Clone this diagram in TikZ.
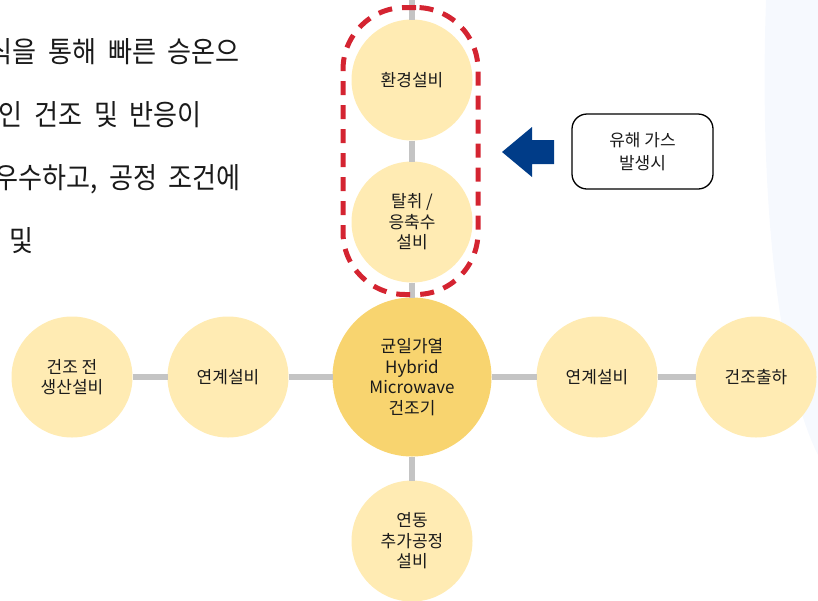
\documentclass[tikz,border=0pt]{standalone}
\usepackage{fontspec}
\setmainfont{Noto Sans CJK KR}
\newfontfamily\bodyfont{Noto Sans CJK KR}[FakeStretch=0.9,WordSpace=2.0]
\definecolor{lightY}{HTML}{FFEBB3}
\definecolor{darkY}{HTML}{F8D46F}
\definecolor{lineG}{HTML}{C4C4C4}
\definecolor{dashR}{HTML}{D42431}
\definecolor{arrB}{HTML}{003C88}
\definecolor{bgB}{HTML}{F6F9FE}
\definecolor{txt}{HTML}{1A1A1A}
\begin{document}
\begin{tikzpicture}[x=1pt,y=-1pt,
  stage/.style={circle, fill=lightY, minimum size=121pt, inner sep=0pt, outer sep=0pt, align=center, font=\fontsize{17}{20.5}\selectfont, text=txt},
  hub/.style={stage, fill=darkY, minimum size=159pt},
  link/.style={draw=lineG, line width=6pt},
  group/.style={draw=dashR, line width=5pt, dash pattern=on 14pt off 10pt, rounded corners=62pt, inner sep=0pt},
  note/.style={draw=black, line width=1.3pt, rounded corners=15pt, minimum width=141pt, minimum height=75pt, align=center, inner sep=0pt, font=\fontsize{17}{23}\selectfont, text=txt},
  body/.style={anchor=base east, inner sep=0pt, font=\bodyfont\fontsize{29}{32}\selectfont, text=txt}]
\useasboundingbox (0,0) rectangle (818,600);
\clip (0,0) rectangle (818,600);
\fill[bgB] (766,0) .. controls (758,230) and (785,390) .. (818,455) -- (818,0) -- cycle;
% left paragraph (cut by the left edge)
\node[body] (t1) at (240,62) {식을 통해 빠른 승온으};
\node[body] (t2) at (202,125) {적인 건조 및 반응이};
\node[body] (t3) at (241,188) {우수하고, 공정 조건에};
\node[body] (t4) at (34,251) {최적화 및};
% stages
\node[stage] (env) at (412,80) {환경설비};
\node[stage] (deo) at (412,222) {탈취 /\\응축수\\설비};
\node[hub] (hub) at (412,377) {균일가열\\Hybrid\\Microwave\\건조기};
\node[stage] (post) at (412,541) {연동\\추가공정\\설비};
\node[stage] (pre) at (72,377) {건조 전\\생산설비};
\node[stage] (linkL) at (228,377) {연계설비};
\node[stage] (linkR) at (597,377) {연계설비};
\node[stage] (ship) at (756,377) {건조출하};
\coordinate (top) at (412,0);
% connectors
\draw[link] (top) -- (env);
\draw[link] (env) -- (deo);
\draw[link] (deo) -- (hub);
\draw[link] (hub) -- (post);
\draw[link] (pre) -- (linkL);
\draw[link] (linkL) -- (hub);
\draw[link] (hub) -- (linkR);
\draw[link] (linkR) -- (ship);
% dashed group
\node[group, minimum width=135pt, minimum height=287pt] (grp) at (410.5,151) {};
% note and arrow
\node[note] (gas) at (642.5,151.5) {유해 가스\\발생시};
\fill[arrB] (502,152) -- (532,127) -- (532,140) -- (554,140) -- (554,164) -- (532,164) -- (532,177) -- cycle;
\end{tikzpicture}
\end{document}
